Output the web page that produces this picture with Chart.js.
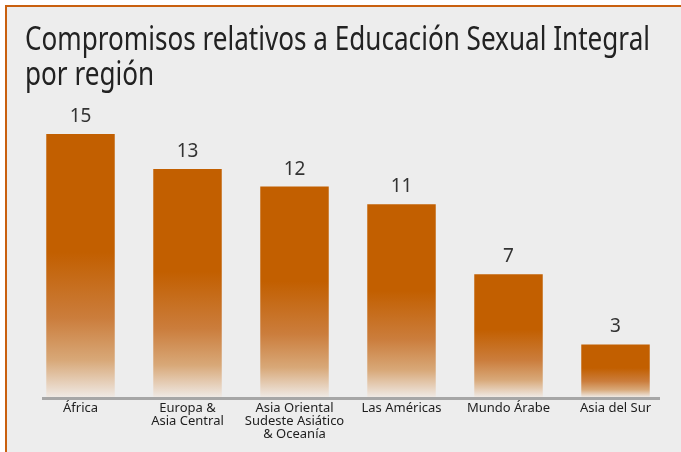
<!DOCTYPE html>
<html>
<head>
<meta charset="utf-8">
<script src="https://cdn.jsdelivr.net/npm/chart.js@4"></script>
<style>
  html, body { margin: 0; padding: 0; background: #fff; }
  #marco {
    position: absolute; left: 5px; top: 5px; right: 0; bottom: 0;
    background: #ededed;
    border-left: 2px solid #c9600f;
    border-top: 2px solid #c9600f;
  }
  #caja { position: absolute; left: 0; top: 0; width: 681px; height: 452px; }
</style>
</head>
<body>
<div id="marco"></div>
<div id="caja"><canvas id="graficoRegion"></canvas></div>
<script>
const regiones = ['África', ['Europa &', 'Asia Central'], ['Asia Oriental', 'Sudeste Asiático', '& Oceanía'], 'Las Américas', 'Mundo Árabe', 'Asia del Sur'];
const compromisos = [15, 13, 12, 11, 7, 3];
const titulo = ['Compromisos relativos a Educación Sexual Integral', 'por región'];

const naranja = '#c25f00';

// degradado de cada barra: color lleno arriba, se aclara hacia la base
function degradado(ctx) {
  const chart = ctx.chart;
  if (!chart.chartArea || ctx.type !== 'data') return naranja;
  const y = chart.scales.y;
  const arriba = y.getPixelForValue(ctx.raw);
  const base = y.getPixelForValue(0);
  const g = chart.ctx.createLinearGradient(0, arriba, 0, base);
  g.addColorStop(0, naranja);
  g.addColorStop(0.45, naranja);
  g.addColorStop(0.7, '#cb7d3c');
  g.addColorStop(0.86, '#d8a878');
  g.addColorStop(1, '#efe9e4');
  return g;
}

// titulo en dos lineas, letra angosta (se comprime a lo ancho)
const tituloAngosto = {
  id: 'tituloAngosto',
  afterDraw(chart) {
    const c = chart.ctx;
    c.save();
    c.font = '32px "Noto Sans"';
    c.fillStyle = '#222';
    c.textAlign = 'left';
    c.textBaseline = 'alphabetic';
    const ancho = c.measureText(titulo[0]).width;
    const k = 625 / ancho;
    c.translate(25, 0);
    c.scale(k, 1);
    c.fillText(titulo[0], 0, 50);
    c.fillText(titulo[1], 0, 85);
    c.restore();
  }
};

const etiquetas = {
  id: 'etiquetas',
  afterDatasetsDraw(chart) {
    const c = chart.ctx;
    const meta = chart.getDatasetMeta(0);
    c.save();
    c.font = '19px "Noto Sans"';
    c.fillStyle = '#333';
    c.textAlign = 'center';
    c.textBaseline = 'alphabetic';
    meta.data.forEach((bar, i) => {
      c.fillText(compromisos[i], bar.x, bar.y - 12);
    });
    c.restore();
  }
};

const lineaBase = {
  id: 'lineaBase',
  afterDatasetsDraw(chart) {
    const c = chart.ctx;
    const x = chart.scales.x;
    const yb = chart.scales.y.getPixelForValue(0) + 1.5;
    c.save();
    c.strokeStyle = '#a6a6a6';
    c.lineWidth = 3;
    c.beginPath();
    c.moveTo(x.left + 15, yb);
    c.lineTo(x.right - 9, yb);
    c.stroke();
    c.restore();
  }
};

const ctxRegion = document.getElementById('graficoRegion');
new Chart(ctxRegion, {
  type: 'bar',
  data: {
    labels: regiones,
    datasets: [{
      label: 'Compromisos',
      data: compromisos,
      backgroundColor: degradado,
      categoryPercentage: 1,
      barPercentage: 0.64
    }]
  },
  options: {
    responsive: true,
    maintainAspectRatio: false,
    animation: false,
    layout: { padding: { left: 22, right: 12, top: 134, bottom: 0 } },
    scales: {
      x: {
        grid: { display: false, drawTicks: false },
        border: { display: false },
        ticks: {
          color: '#1e1e1e',
          font: { family: '"Noto Sans"', size: 13, lineHeight: 1.0 },
          padding: 5,
          maxRotation: 0,
          autoSkip: false
        },
        afterFit: s => { s.height = 55; }
      },
      y: {
        min: 0,
        max: 15,
        grid: { display: false, drawTicks: false },
        border: { display: false },
        ticks: { display: false },
        afterFit: s => { s.width = 5; }
      }
    },
    plugins: {
      legend: { display: false },
      tooltip: { enabled: false },
      title: { display: false }
    }
  },
  plugins: [etiquetas, lineaBase, tituloAngosto]
});
</script>
</body>
</html>
